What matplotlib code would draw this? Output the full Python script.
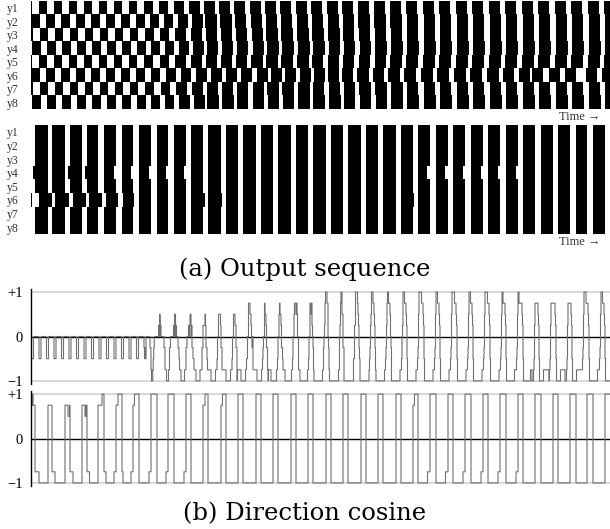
import numpy as np
import matplotlib
matplotlib.use("Agg")
import matplotlib.pyplot as plt

SERIF = ["Liberation Serif", "DejaVu Serif"]
CAPTION = ["DejaVu Serif"]

rows = ["y1", "y2", "y3", "y4", "y5", "y6", "y7", "y8"]
x_start, x_end = 31, 610          # time axis (same units for every panel)

# ---------- (a) upper raster: stripe onsets of y1, black lengths, per-row lags ----------
a1_on = [24, 39, 54, 69, 84, 99, 114, 129, 144, 159, 174, 189,
         204, 219, 234, 250, 265, 280, 296, 311, 327, 342, 358, 374, 390,
         406, 423, 439, 456, 472, 489, 505, 522, 538, 555, 571, 588, 604]
a1_len = [8.5, 8.5, 8.5, 8.5, 8.5, 8.5, 8.5, 8.5, 8.7, 9.5, 10.5, 11,
          11.5, 11.5, 11.5, 11.5, 11.5, 11.5, 11.5, 11.5, 11.5, 11.5, 11.5, 11.5, 11.5,
          11.3, 11.3, 11.3, 11.3, 11.3, 11.3, 11.3, 11.3, 11.3, 11.3, 11.3, 11.3, 11.3]
a1_lag = {
    "y1": [0] * 38,
    "y2": [7.5] * 8 + [6, 5, 4, 3] + [1.5, 1.5, 1, 1, 1, 1, 1, 1, 1, 1, 0.5, 0.5, 0.5] + [1] * 13,
    "y3": [1] * 8 + [1, 1, 1.5, 2] + [2, 2, 2, 2, 1.5, 1.5, 1.5, 1.5, 1.5, 1, 1, 1, 1] + [1] * 13,
    "y4": [8.5] * 8 + [7, 6, 5, 4] + [3, 3, 3, 3, 2.5, 2.5, 2.5, 2.5, 2, 2, 2, 1.5, 1.5] + [1.5] * 13,
    "y5": [0] * 8 + [0.5, 1, 1.5, 2] + [2, 2, 2, 1.5, 1.5, 1.5, 1.5, 1, 1, 1, 1, 1, 0.5] + [0.5] * 13,
    "y6": [7.5] * 8 + [7.5, 7.5, 7, 7] + [7, 7, 7, 7, 6, 5, 4, 3, 1, 0, -0.5, -1, -1.5]
          + [-1.5, -1.5, -1.5, -1.5, -1.5, -1.5, -2, -3, -6, -6, -6, -2, -1.5],
    "y7": [1] * 8 + [1.5, 2, 2.5, 3] + [3, 3, 3, 3, 2.5, 2.5, 2.5, 2, 2, 2, 1.5, 1.5, 1.5] + [1] * 13,
    "y8": [8.5] * 8 + [7, 6, 5.5, 5] + [3.5, 3.5, 3, 3, 3, 3, 2.5, 2.5, 2.5, 2, 2, 2, 1.5] + [1.5] * 13,
}

# ---------- (a) lower raster: common black stripes + row deviations ----------
a2_on = [35, 52, 70, 87, 104, 122, 139, 157, 174, 191, 208, 226, 243, 261, 278, 296, 313,
         331, 348, 366, 383, 401, 418, 436, 453, 471, 488, 506, 523, 541, 558, 576, 593]
a2_off = [48, 65, 82, 98, 116, 133, 151, 168, 186, 203, 221, 238, 256, 273, 291, 308, 326,
          343, 361, 378, 396, 413, 430, 448, 465, 483, 500, 518, 535, 553, 570, 587, 605]
a2_extra_black = [("y6", 31, 32.5), ("y6", 48, 53), ("y6", 65, 69.5), ("y6", 82, 86),
                  ("y6", 98, 102), ("y6", 116, 118), ("y6", 133, 134.5), ("y6", 203, 205),
                  ("y6", 221, 222.5), ("y6", 413, 414.5),
                  ("y4", 33, 35), ("y4", 68, 70), ("y4", 85, 87)]
a2_white = [("y6", 35, 39), ("y6", 52, 55), ("y6", 70, 73), ("y6", 87, 89.5),
            ("y6", 104, 106), ("y6", 122, 123),
            ("y4", 114, 116), ("y4", 131, 133), ("y4", 149, 151), ("y4", 166, 168),
            ("y4", 184, 186), ("y4", 427.5, 430), ("y4", 445.5, 448), ("y4", 463, 465),
            ("y4", 481, 483), ("y4", 498, 500), ("y4", 516, 518)]

# ---------- build black/white state on a fine time grid ----------
dt = 0.25
t = np.arange(x_start, x_end, dt)


def a1_state():
    m = np.zeros((8, t.size))
    for r, name in enumerate(rows):
        for on, ln, lg in zip(a1_on, a1_len, a1_lag[name]):
            m[r, (t >= on + lg) & (t < on + lg + ln)] = 1
    return m


def a2_state():
    m = np.zeros((8, t.size))
    for on, off in zip(a2_on, a2_off):
        m[:, (t >= on) & (t < off)] = 1
    for name, a, b in a2_extra_black:
        m[rows.index(name), (t >= a) & (t < b)] = 1
    for name, a, b in a2_white:
        m[rows.index(name), (t >= a) & (t < b)] = 0
    return m


A1 = a1_state()
A2 = a2_state()
# direction cosine of the output vector (white = +1, black = -1) with the all-white vector
B1 = 1 - 2 * A1.mean(axis=0)
B2 = 1 - 2 * A2.mean(axis=0)

W, H = 610, 529
fig = plt.figure(figsize=(W / 100, H / 100), dpi=100)


def axes_px(x0, y0, x1, y1):
    return fig.add_axes([x0 / W, 1 - y1 / H, (x1 - x0) / W, (y1 - y0) / H])


def raster(ax, m):
    ax.imshow(m, aspect="auto", cmap="gray_r", vmin=0, vmax=1, interpolation="nearest",
              extent=[x_start, x_end, 8, 0])
    ax.set_xlim(x_start, x_end)
    ax.set_ylim(8, 0)
    ax.set_xticks([])
    ax.set_yticks(np.arange(8) + 0.5, rows)
    ax.tick_params(axis="y", length=0, pad=9, labelsize=8.5, labelcolor="#333")
    for lab in ax.get_yticklabels():
        lab.set_family(SERIF)
    for s in ax.spines.values():
        s.set_visible(False)


ax1 = axes_px(x_start, 1, x_end, 109)
raster(ax1, A1)
ax2 = axes_px(x_start, 125, x_end, 234)
raster(ax2, A2)

fig.text(580 / W, 1 - 117 / H, "Time →", ha="center", va="center", fontsize=9,
         family=SERIF, color="#333")
fig.text(580 / W, 1 - 242 / H, "Time →", ha="center", va="center", fontsize=9,
         family=SERIF, color="#333")
fig.text(305 / W, 1 - 269 / H, "(a) Output sequence", ha="center", va="center",
         fontsize=17.5, family=CAPTION)


def cosine(ax, b):
    ax.axhline(1, color="#d8d8d8", lw=1.5, zorder=0)
    ax.axhline(-1, color="#d8d8d8", lw=1.5, zorder=0)
    ax.axhline(0, color="black", lw=1.0, zorder=1)
    ax.step(t, b, where="post", color="#707070", lw=0.8, zorder=2)
    ax.set_xlim(x_start, x_end)
    ax.set_ylim(-1.07, 1.07)
    ax.set_xticks([])
    ax.set_yticks([1, 0, -1], ["+1", "0", "−1"])
    ax.tick_params(axis="y", length=0, pad=6, labelsize=10.5)
    for lab in ax.get_yticklabels():
        lab.set_family(SERIF)
    for k in ["top", "right", "bottom"]:
        ax.spines[k].set_visible(False)
    ax.spines["left"].set_color("black")
    ax.spines["left"].set_linewidth(1.0)


ax3 = axes_px(x_start, 289, x_end, 384)
cosine(ax3, B1)
ax4 = axes_px(x_start, 391, x_end, 486)
cosine(ax4, B2)

fig.text(305 / W, 1 - 514 / H, "(b) Direction cosine", ha="center", va="center",
         fontsize=17.5, family=CAPTION)

fig.savefig("out.png", dpi=100)
